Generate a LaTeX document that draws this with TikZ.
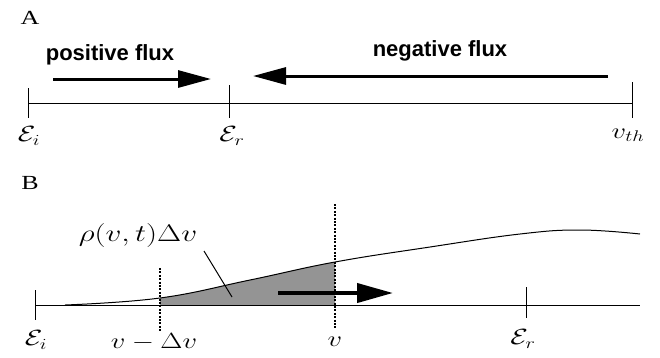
\RequirePackage{fix-cm}
\documentclass[tikz,border=0pt]{standalone}
\usepackage{fontspec}
\setmainfont{Liberation Serif}
\newfontfamily\fluxfont{Liberation Sans}
\usetikzlibrary{arrows.meta, positioning}

% the printed labels are set wide
\newcommand{\wide}[1]{\scalebox{1.3}[1]{#1}}

\begin{document}
\begin{tikzpicture}[
    x=1pt, y=-1pt,
    font=\fontsize{22}{26}\selectfont,
    axis/.style={line width=1pt},
    tick/.style={line width=1pt},
    flux/.style={-{Triangle[length=33pt, width=17pt]}, line width=3pt},
    fluxlabel/.style={font=\fluxfont\bfseries\fontsize{22}{26}\selectfont},
    panel/.style={font=\fontsize{20}{24}\selectfont},
    cut/.style={line width=2.6pt, dash pattern=on 2pt off 1.4pt},
]
    \useasboundingbox (0,0) rectangle (660,357);

    % Panel A: axis with fluxes (yshift is upwards on the page)
    \node[panel] (labA) at (30,18) {\wide{A}};
    \coordinate (ai)  at (28,103);
    \coordinate (ar)  at (229,103);
    \coordinate (ath) at (632,103);
    \draw[axis] (ai) -- (ath);
    \draw[tick] ([yshift=15] ai) -- ([yshift=-15] ai);
    \draw[tick] ([yshift=18] ar) -- ([yshift=-15] ar);
    \draw[tick] ([yshift=21] ath) -- ([yshift=-15] ath);
    \node (ei) at (29,136)  {\wide{$\mathcal{E}_i$}};
    \node (er) at (232,136) {\wide{$\mathcal{E}_r$}};
    \node (vth) at (628,135) {\wide{$v_{th}$}};

    \coordinate (posA) at (53,79);
    \coordinate (posB) at (211,79);
    \coordinate (negA) at (608,76);
    \coordinate (negB) at (253,76);
    \draw[flux] (posA) -- (posB);
    \draw[flux] (negA) -- (negB);
    \node[fluxlabel] (pos) at (110,55) {positive flux};
    \node[fluxlabel] (neg) at (440,51) {negative flux};

    % Panel B: density and the strip that crosses v
    \node[panel] (labB) at (30,183) {\wide{B}};
    \coordinate (bi) at (35,305);
    \coordinate (br) at (526,305);
    \coordinate (bend) at (640,305);
    \coordinate (lo) at (160,305);
    \coordinate (hi) at (335,305);

    \begin{scope}
        \clip (lo |- 0,0) rectangle (hi);
        \fill[black!42] plot[smooth, tension=0.7] coordinates {(65,305) (160,298)
            (250,280) (335,262) (430,247) (520,234) (580,230) (640,234)}
            -- (bend) -- (bi) -- cycle;
    \end{scope}
    \draw[line width=1pt] plot[smooth, tension=0.7] coordinates {(65,305) (160,298)
        (250,280) (335,262) (430,247) (520,234) (580,230) (640,234)};

    \draw[axis] (bi) -- (bend);
    \draw[tick] ([yshift=15] bi) -- ([yshift=-15] bi);
    \draw[tick] ([yshift=18] br) -- ([yshift=-13] br);
    \draw[cut] ([yshift=37] lo) -- ([yshift=-27] lo);
    \draw[cut] ([yshift=101] hi) -- ([yshift=-23] hi);

    \coordinate (runA) at (278,293);
    \coordinate (runB) at (393,293);
    \draw[-{Triangle[length=36pt, width=19pt]}, line width=4pt] (runA) -- (runB);

    \node (bei) at (36,340)  {\wide{$\mathcal{E}_i$}};
    \node (dv)  at (154,342) {\wide{$v - \Delta v$}};
    \node (v)   at (335,342) {\wide{$v$}};
    \node (ber) at (523,339) {\wide{$\mathcal{E}_r$}};

    \node[font=\fontsize{24}{28}\selectfont] (rho) at (138,235) {\wide{$\rho(v,t)\Delta v$}};
    \coordinate (rhoPt) at (232,297);
    \draw[line width=1pt] (204,251) -- (rhoPt);
\end{tikzpicture}
\end{document}
